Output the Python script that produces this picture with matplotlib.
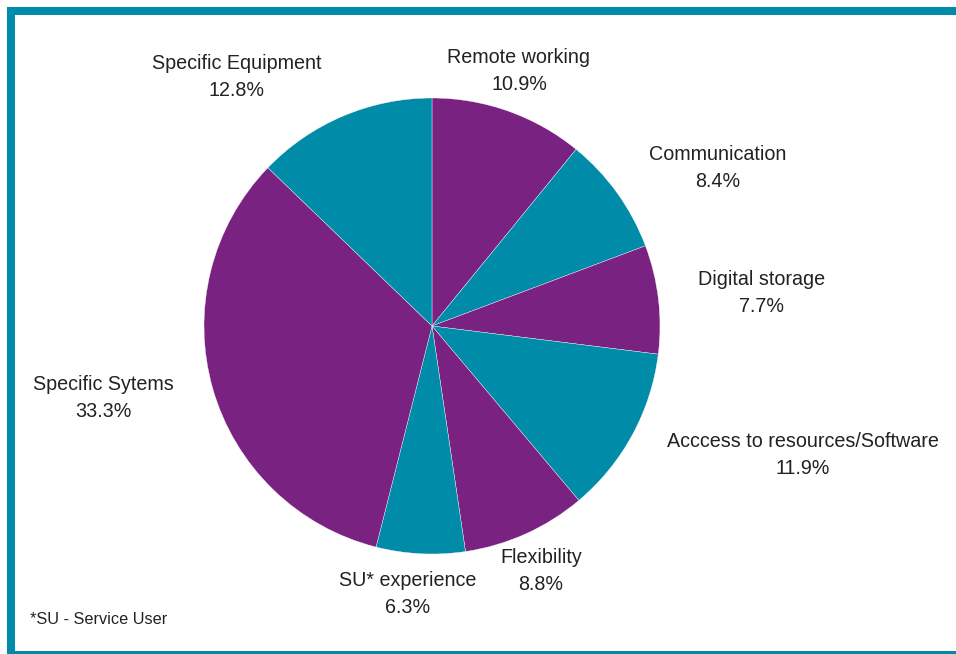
import matplotlib.pyplot as plt
from matplotlib.patches import Rectangle

# share of responses per category, clockwise from 12 o'clock
categories = [
    "Remote working",
    "Communication",
    "Digital storage",
    "Acccess to resources/Software",
    "Flexibility",
    "SU* experience",
    "Specific Sytems",
    "Specific Equipment",
]
shares = [10.9, 8.4, 7.7, 11.9, 8.8, 6.3, 33.3, 12.8]

PURPLE = "#7a2282"
TEAL = "#008ba8"
slice_colors = [PURPLE, TEAL] * 4

# label anchor points in pixels (x from left, y from top)
label_xy = [
    (519, 71), (718, 168), (762, 293), (803, 455),
    (541, 571), (408, 594), (103, 398), (237, 77),
]

W, H = 956, 654
plt.rcParams["font.family"] = ["Liberation Sans", "DejaVu Sans"]

fig = plt.figure(figsize=(W / 100, H / 100), dpi=100)
ax = fig.add_axes([0, 0, 1, 1])

ax.pie(
    shares,
    colors=slice_colors,
    startangle=90,
    counterclock=False,
    center=(432, H - 326),
    radius=228,
    wedgeprops={"edgecolor": "white", "linewidth": 0.25},
    frame=True,
)
ax.set_xlim(0, W)
ax.set_ylim(0, H)
ax.axis("off")

for name, val, (x, y) in zip(categories, shares, label_xy):
    ax.text(x, H - y, f"{name}\n{val:.1f}%", ha="center", va="center",
            fontsize=14.2, color="#222222", linespacing=1.5)

ax.text(30, H - 619, "*SU - Service User", ha="left", va="center",
        fontsize=11.7, color="#222222")

# frame around the chart, partly cut off at right and bottom
ax.add_patch(Rectangle((11, -1), 960, H - 10, fill=False,
                       edgecolor=TEAL, linewidth=8 * 0.72, clip_on=False))

fig.savefig("out.png", dpi=100)
